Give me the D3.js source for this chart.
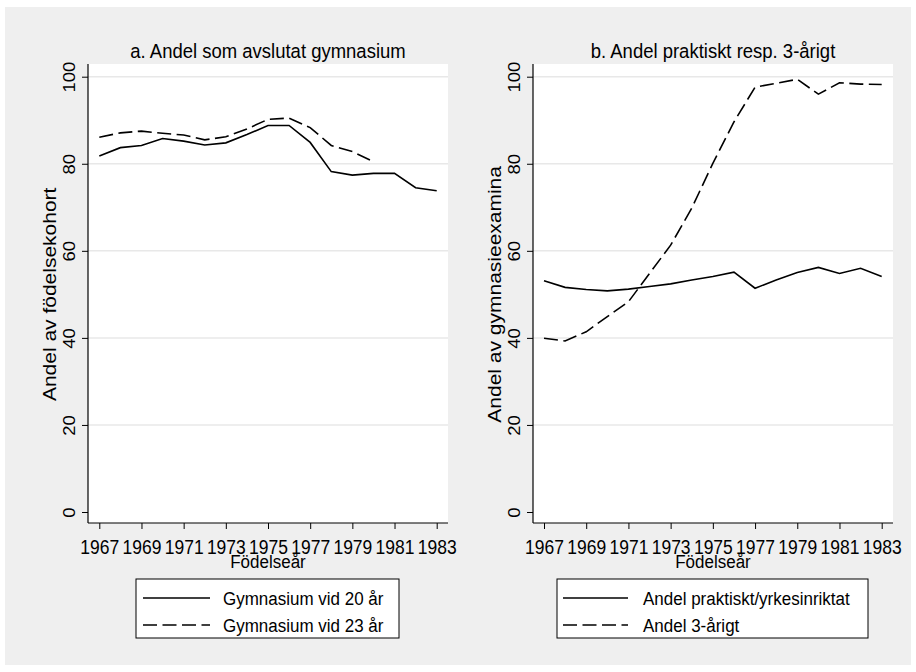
<!DOCTYPE html>
<html>
<head>
<meta charset="utf-8">
<script src="https://cdn.jsdelivr.net/npm/d3@7"></script>
<style>
  body { margin: 0; background: #ffffff; }
  svg { display: block; font-family: "Liberation Sans", Arial, sans-serif; }
</style>
</head>
<body>
<svg width="916" height="672"></svg>
<script>
// birth cohorts
var years = d3.range(1967, 1984);
var yearTicks = [1967, 1969, 1971, 1973, 1975, 1977, 1979, 1981, 1983];
var pctTicks = [0, 20, 40, 60, 80, 100];

// panel a: share who completed upper secondary
var gymn20 = [81.8, 83.7, 84.2, 85.8, 85.2, 84.3, 84.8, 86.7, 88.8, 88.8, 84.9, 78.2, 77.4, 77.8, 77.8, 74.5, 73.8];
var gymn23 = [86.1, 87.1, 87.5, 87.0, 86.6, 85.5, 86.2, 88.0, 90.2, 90.5, 88.3, 84.2, 82.8, 80.5];

// panel b: share practical/vocational and share 3-year programmes
var praktisk = [53.1, 51.6, 51.1, 50.8, 51.2, 51.8, 52.4, 53.3, 54.1, 55.1, 51.4, 53.3, 55.0, 56.2, 54.8, 56.0, 54.1];
var treArigt = [39.9, 39.3, 41.4, 44.9, 48.3, 54.8, 61.3, 69.8, 80.1, 89.6, 97.6, 98.5, 99.4, 96.0, 98.6, 98.3, 98.2];

var svg = d3.select("svg");
var dash = "14,5.5";
var k = 1.12; // text looks stretched vertically in the original export

svg.append("rect")
    .attr("x", 5).attr("y", 7)
    .attr("width", 906).attr("height", 658)
    .attr("fill", "#efefef");

var panels = [
  { title: "a. Andel som avslutat gymnasium", ytitle: "Andel av födelsekohort",
    left: 88, right: 448, x0: 99.3, x1: 436.7, ytx: 56,
    series: [{ values: gymn20, name: "Gymnasium vid 20 år", dash: null },
             { values: gymn23, name: "Gymnasium vid 23 år", dash: dash }],
    legend: { x: 136, w: 263, lx0: 143, lx1: 210, tx: 223 } },
  { title: "b. Andel praktiskt resp. 3-årigt", ytitle: "Andel av gymnasieexamina",
    left: 533, right: 893, x0: 544, x1: 881.7, ytx: 501,
    series: [{ values: praktisk, name: "Andel praktiskt/yrkesinriktat", dash: null },
             { values: treArigt, name: "Andel 3-årigt", dash: dash }],
    legend: { x: 557, w: 311, lx0: 563, lx1: 628, tx: 643 } }
];

var plotTop = 64, plotBottom = 523;

function stretched(g, x, y, txt, size, anchor) {
  return g.append("text")
      .attr("transform", "translate(" + x + "," + y + ") scale(1," + k + ")")
      .attr("text-anchor", anchor)
      .attr("font-size", size)
      .text(txt);
}

panels.forEach(function(p) {
  var x = d3.scaleLinear().domain([1967, 1983]).range([p.x0, p.x1]);
  var y = d3.scaleLinear().domain([0, 100]).range([512, 76.7]);

  svg.append("rect")
      .attr("x", p.left).attr("y", plotTop)
      .attr("width", p.right - p.left).attr("height", plotBottom - plotTop)
      .attr("fill", "#ffffff");

  // grid lines
  svg.append("g").selectAll("line")
    .data(pctTicks.filter(function(d) { return d > 0; }))
    .enter().append("line")
      .attr("x1", p.left).attr("x2", p.right)
      .attr("y1", function(d) { return y(d); })
      .attr("y2", function(d) { return y(d); })
      .attr("stroke", "#e8e8e8")
      .attr("stroke-width", 1.5);

  // y axis
  var gy = svg.append("g")
      .attr("transform", "translate(" + p.left + ",0)")
      .call(d3.axisLeft(y).tickValues(pctTicks).tickSize(6).tickSizeOuter(0));
  gy.select(".domain").remove();
  gy.selectAll(".tick line").attr("stroke", "#000");
  gy.selectAll(".tick text")
      .attr("transform", "rotate(-90) scale(" + k + ",1)")
      .attr("x", 0).attr("y", -13).attr("dy", 0)
      .attr("text-anchor", "middle")
      .attr("font-size", 16.5)
      .attr("font-family", "Liberation Sans, Arial, sans-serif")
      .attr("fill", "#000");

  // x axis
  var gx = svg.append("g")
      .attr("transform", "translate(0," + plotBottom + ")")
      .call(d3.axisBottom(x).tickValues(yearTicks).tickFormat(d3.format("d")).tickSize(6).tickSizeOuter(0));
  gx.select(".domain").remove();
  gx.selectAll(".tick line").attr("stroke", "#000");
  gx.selectAll(".tick text")
      .attr("y", 0).attr("dy", 0)
      .attr("transform", "translate(0,31) scale(1," + k + ")")
      .attr("font-size", 17.5)
      .attr("font-family", "Liberation Sans, Arial, sans-serif")
      .attr("fill", "#000");

  // axis lines
  svg.append("line")
      .attr("x1", p.left).attr("x2", p.left)
      .attr("y1", plotTop).attr("y2", plotBottom)
      .attr("stroke", "#000").attr("stroke-width", 1.2);
  svg.append("line")
      .attr("x1", p.left).attr("x2", p.right)
      .attr("y1", plotBottom).attr("y2", plotBottom)
      .attr("stroke", "#000").attr("stroke-width", 1.2);

  // series
  var line = d3.line()
      .x(function(d, i) { return x(years[i]); })
      .y(function(d) { return y(d); });

  p.series.forEach(function(s) {
    svg.append("path")
        .datum(s.values)
        .attr("d", line)
        .attr("fill", "none")
        .attr("stroke", "#000")
        .attr("stroke-width", 1.6)
        .attr("stroke-dasharray", s.dash);
  });

  // titles
  var cx = (p.left + p.right) / 2;
  stretched(svg, cx, 58, p.title, 18.5, "middle");
  stretched(svg, cx, 568, "Födelseår", 17, "middle");
  svg.append("text")
      .attr("transform", "translate(" + p.ytx + "," + y(50) + ") rotate(-90) scale(1.2,1)")
      .attr("text-anchor", "middle")
      .attr("font-size", 17.5)
      .text(p.ytitle);

  // legend
  var L = p.legend;
  svg.append("rect")
      .attr("x", L.x).attr("y", 579)
      .attr("width", L.w).attr("height", 59)
      .attr("fill", "#fff").attr("stroke", "#000").attr("stroke-width", 1);
  p.series.forEach(function(s, i) {
    var ly = 598 + i * 27;
    svg.append("line")
        .attr("x1", L.lx0).attr("x2", L.lx1)
        .attr("y1", ly).attr("y2", ly)
        .attr("stroke", "#000").attr("stroke-width", 1.6)
        .attr("stroke-dasharray", s.dash);
    stretched(svg, L.tx, ly + 6.5, s.name, 17, "start");
  });
});
</script>
</body>
</html>
